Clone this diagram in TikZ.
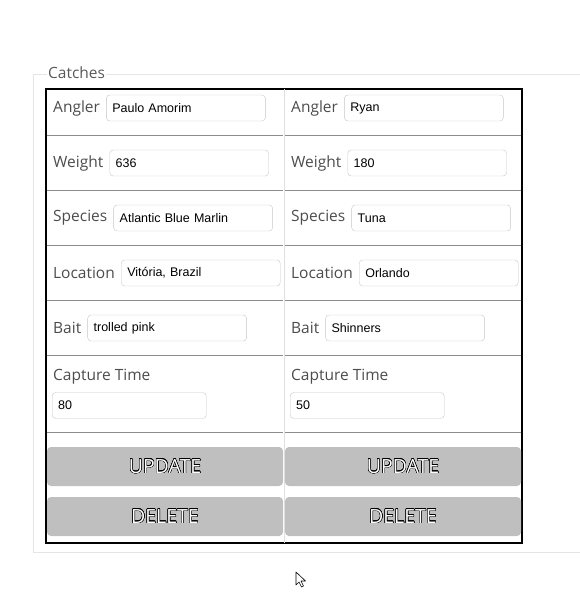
\documentclass[tikz,border=0pt]{standalone}
\usepackage{fontspec}
\usepackage{contour}
\usetikzlibrary{positioning}
\newfontfamily\labelfont{Open Sans}
\newfontfamily\entryfont{Liberation Sans}
\contourlength{0.45pt}
\tikzstyle{field}=[font=\labelfont\fontsize{15.5}{18}\selectfont, text=black!70, anchor=west, inner sep=0pt]
\tikzstyle{entry}=[draw=black!22, fill=white, rounded corners=3.5pt, text width=147pt, align=left,
    minimum height=26pt, inner xsep=6pt, font=\entryfont\fontsize{12.5}{14}\selectfont]
\tikzstyle{shortentry}=[entry, text width=142pt, anchor=west]
\tikzstyle{button}=[fill=gray!50, rounded corners=4pt, minimum width=236pt, minimum height=39pt,
    text=white, font=\labelfont\fontsize{19.5}{22}\selectfont]
\tikzstyle{rowline}=[draw=black!45, line width=0.8pt]
\tikzstyle{frame}=[draw=black!10, line width=0.8pt]
\def\entrygap{6pt}

\begin{document}
\begin{tikzpicture}[x=1pt,y=-1pt]
    \useasboundingbox (0,0) rectangle (580,608);
    % Define the fieldset and its legend
    \node (legend) [anchor=west, inner sep=1pt, font=\labelfont\fontsize{15.5}{18}\selectfont, text=black!65] at (47,73) {Catches};
    \coordinate (fs_nw) at (33,74);
    \coordinate (fs_sw) at (33,552);
    \coordinate (fs_se) at (580,552);
    \coordinate (fs_ne) at (580,74);
    \draw [frame] (legend.east |- fs_ne) -- (fs_ne);
    \draw [frame] (legend.west |- fs_nw) -- (fs_nw) -- (fs_sw) -- (fs_se);

    % Define the table grid
    \draw [black, line width=1.2pt] (46,89) rectangle (522,543);
    \draw [draw=black!12, line width=1pt] (284,89) -- (284,543);
    \draw [rowline] (47,135) -- (283,135) (285,135) -- (521,135);
    \draw [rowline] (47,190) -- (283,190) (285,190) -- (521,190);
    \draw [rowline] (47,245) -- (283,245) (285,245) -- (521,245);
    \draw [rowline] (47,300) -- (283,300) (285,300) -- (521,300);
    \draw [rowline] (47,355) -- (283,355) (285,355) -- (521,355);
    \draw [rowline] (47,432) -- (283,432) (285,432) -- (521,432);

    % Define the nodes of the first catch
    \node (ang_l) [field] at (53,108) {Angler};
    \node (ang_l_in) [entry, right=\entrygap of ang_l] {Paulo Amorim};
    \node (wgt_l) [field] at (53,163) {Weight};
    \node (wgt_l_in) [entry, right=\entrygap of wgt_l] {636};
    \node (spc_l) [field] at (53,218) {Species};
    \node (spc_l_in) [entry, right=\entrygap of spc_l] {Atlantic Blue Marlin};
    \node (loc_l) [field] at (53,273) {Location};
    \node (loc_l_in) [entry, right=\entrygap of loc_l] {Vitória, Brazil};
    \node (bait_l) [field] at (53,328) {Bait};
    \node (bait_l_in) [entry, right=\entrygap of bait_l] {trolled pink};
    \node (cap_l) [field] at (53,377) {Capture Time};
    \node (cap_l_in) [shortentry] at (52,405.5) {80};
    \node (upd_l) [button] at (165,466.5) {\contour{black}{UPDATE}};
    \node (del_l) [button] at (165,516.5) {\contour{black}{DELETE}};

    % Define the nodes of the second catch
    \node (ang_r) [field] at (291,108) {Angler};
    \node (ang_r_in) [entry, right=\entrygap of ang_r] {Ryan};
    \node (wgt_r) [field] at (291,163) {Weight};
    \node (wgt_r_in) [entry, right=\entrygap of wgt_r] {180};
    \node (spc_r) [field] at (291,218) {Species};
    \node (spc_r_in) [entry, right=\entrygap of spc_r] {Tuna};
    \node (loc_r) [field] at (291,273) {Location};
    \node (loc_r_in) [entry, right=\entrygap of loc_r] {Orlando};
    \node (bait_r) [field] at (291,328) {Bait};
    \node (bait_r_in) [entry, right=\entrygap of bait_r] {Shinners};
    \node (cap_r) [field] at (291,377) {Capture Time};
    \node (cap_r_in) [shortentry] at (290,405.5) {50};
    \node (upd_r) [button] at (403,466.5) {\contour{black}{UPDATE}};
    \node (del_r) [button] at (403,516.5) {\contour{black}{DELETE}};

    % The mouse pointer
    \draw [fill=white, line width=0.6pt, line join=round] (296,572) -- ++(0,13) -- ++(3,-3)
        -- ++(2.5,5) -- ++(2,-1) -- ++(-2.5,-5) -- ++(4.5,0) -- cycle;
\end{tikzpicture}
\end{document}
